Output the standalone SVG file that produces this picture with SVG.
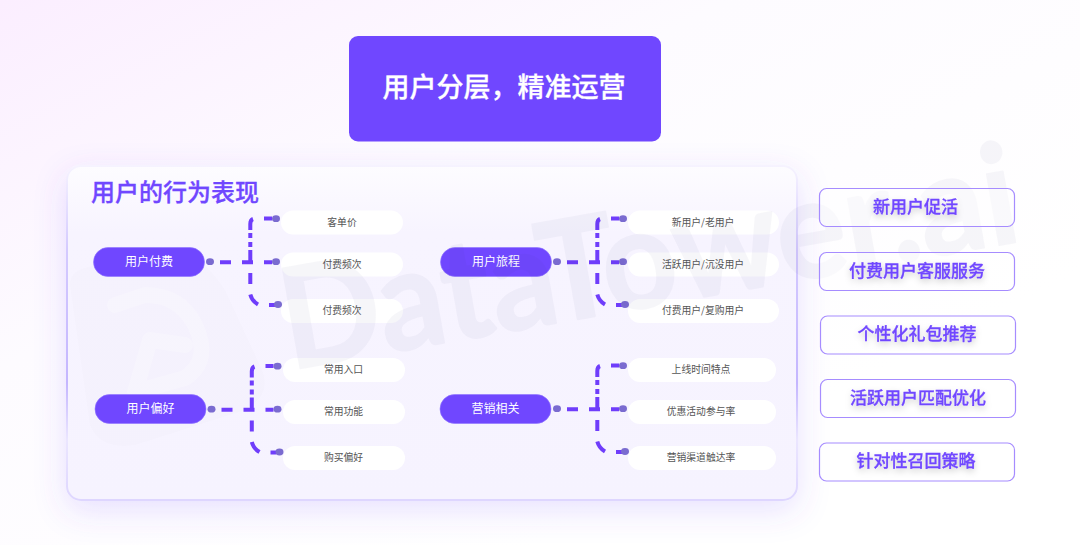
<svg xmlns="http://www.w3.org/2000/svg" width="1080" height="545" viewBox="0 0 1080 545">
<style>
text{font-family:"Noto Sans CJK SC","Liberation Sans",sans-serif;text-anchor:middle}
.root rect{fill:#7047ff;stroke:#8f73ff;stroke-width:.6}
.root text{fill:#fff;font-size:12px}
.leaf rect{fill:#fff}
.leaf text{fill:#555;font-size:9.800px}
.act rect{fill:#fff;fill-opacity:.45;stroke:#a68cff;stroke-width:1.200}
.act text{fill:#7047ff;stroke:#7047ff;stroke-width:.3;font-size:17px;font-weight:500;filter:url(#ts)}
.c{fill:none;stroke:#6f3dfb;stroke-width:4}
.d{fill:#7a6bd0}
</style>
<defs>
<linearGradient id="bg" x1="0" y1="0" x2="0.75" y2="0.75"><stop offset="0" stop-color="#fbeeff"/><stop offset=".45" stop-color="#fdfbff"/><stop offset="1" stop-color="#ffffff"/></linearGradient>
<linearGradient id="card" x1="0" y1="0" x2="0" y2="1"><stop offset="0" stop-color="#fdfcff"/><stop offset=".2" stop-color="#f7f4ff"/><stop offset="1" stop-color="#f6f3ff"/></linearGradient>
<linearGradient id="edge" x1="0" y1="0" x2="0" y2="1"><stop offset="0" stop-color="#f6f3ff"/><stop offset=".25" stop-color="#d4caff"/><stop offset=".65" stop-color="#c4b6ff"/><stop offset=".82" stop-color="#ebe6ff"/><stop offset="1" stop-color="#ded6ff"/></linearGradient>
<filter id="sh" x="-10%" y="-15%" width="120%" height="135%"><feDropShadow dx="0" dy="10" stdDeviation="16" flood-color="#7047ff" flood-opacity=".16"/></filter>
<filter id="ts" x="-10%" y="-30%" width="120%" height="170%"><feDropShadow dx="0" dy="3" stdDeviation="3" flood-color="#000" flood-opacity=".2"/></filter>
<g id="conn">
<path class="c" d="M220 262.300H231M242 262.300H253M250.300 262V250M250.300 247V242M250.300 238V233M250.300 230V224Q250.300 220 253 219M264 218.500H272M264 262.300H272M250.300 273V284M250.300 294.500Q252 301 258 304.500M269 305H275"/>
<ellipse class="d" cx="210" cy="261.700" rx="4" ry="3.400"/><ellipse class="d" cx="276" cy="218.700" rx="4" ry="3.400"/><ellipse class="d" cx="276" cy="261.700" rx="4" ry="3.400"/><ellipse class="d" cx="278" cy="304.500" rx="4" ry="3.400"/>
</g>
</defs>
<rect width="1080" height="545" fill="url(#bg)"/>
<g id="header"><rect x="349" y="36" width="312" height="105.500" rx="9" fill="#7047ff"/><text x="504" y="97" fill="#fff" stroke="#fff" stroke-width=".3" font-size="27" font-weight="500">用户分层，精准运营</text></g>
<g id="panel">
<rect x="67" y="166" width="730" height="334" rx="14" fill="url(#card)" stroke="url(#edge)" stroke-width="2" filter="url(#sh)"/>
<text x="175" y="201" fill="#7047ff" stroke="#7047ff" stroke-width=".3" font-size="24" font-weight="500">用户的行为表现</text>
</g>
<g id="logo" fill="none" stroke-linecap="round" stroke-linejoin="round">
<path d="M70 285Q70 272 85 268L160 248Q195 245 225 290L262 370Q272 395 245 410L135 445Q100 450 90 425Z" fill="#3c3c78" fill-opacity=".012"/>
<path d="M115 305L145 295Q180 295 195 325Q212 360 185 378L135 392L150 340L185 345" stroke="#fff" stroke-opacity=".22" stroke-width="16"/>
</g>
<g id="connectors">
<use href="#conn"/>
<use href="#conn" x="1.500" y="147.500"/>
<use href="#conn" x="347"/>
<use href="#conn" x="347" y="147"/>
</g>
<g id="root-a" class="root"><rect x="93.500" y="247.500" width="111" height="29" rx="14.500"/><text x="149" y="265.500">用户付费</text></g>
<g id="root-b" class="root"><rect x="95" y="394.500" width="111" height="29" rx="14.500"/><text x="150.500" y="412.500">用户偏好</text></g>
<g id="root-c" class="root"><rect x="440.500" y="247.500" width="111" height="29" rx="14.500"/><text x="496" y="265.500">用户旅程</text></g>
<g id="root-d" class="root"><rect x="440" y="394.500" width="111" height="29" rx="14.500"/><text x="495.500" y="412.500">营销相关</text></g>
<g id="leaf-a1" class="leaf"><rect x="281" y="210.500" width="122" height="24" rx="12"/><text x="342" y="225.500">客单价</text></g>
<g id="leaf-a2" class="leaf"><rect x="281" y="252.500" width="122" height="24" rx="12"/><text x="342" y="267.500">付费频次</text></g>
<g id="leaf-a3" class="leaf"><rect x="281" y="299" width="122" height="24" rx="12"/><text x="342" y="314">付费频次</text></g>
<g id="leaf-b1" class="leaf"><rect x="283" y="358" width="122" height="24" rx="12"/><text x="343.500" y="373">常用入口</text></g>
<g id="leaf-b2" class="leaf"><rect x="283" y="400" width="122" height="24" rx="12"/><text x="343.500" y="415">常用功能</text></g>
<g id="leaf-b3" class="leaf"><rect x="283" y="446" width="122" height="24" rx="12"/><text x="343.500" y="461">购买偏好</text></g>
<g id="leaf-c1" class="leaf"><rect x="628" y="210.500" width="151" height="24" rx="12"/><text x="703" y="225.500">新用户/老用户</text></g>
<g id="leaf-c2" class="leaf"><rect x="628" y="252.500" width="151" height="24" rx="12"/><text x="703" y="267.500">活跃用户/沉没用户</text></g>
<g id="leaf-c3" class="leaf"><rect x="628" y="299" width="151" height="24" rx="12"/><text x="703" y="314">付费用户/复购用户</text></g>
<g id="leaf-d1" class="leaf"><rect x="628" y="358" width="148" height="24" rx="12"/><text x="701" y="373">上线时间特点</text></g>
<g id="leaf-d2" class="leaf"><rect x="628" y="400" width="148" height="24" rx="12"/><text x="701" y="415">优惠活动参与率</text></g>
<g id="leaf-d3" class="leaf"><rect x="628" y="446" width="148" height="24" rx="12"/><text x="701" y="461">营销渠道触达率</text></g>
<g id="watermark" fill="#3c3c78" stroke="#3c3c78" stroke-width="2" stroke-linejoin="round" opacity=".04">
<text transform="rotate(-10 290 370)" x="290" y="370" font-size="140" font-weight="700" textLength="745" lengthAdjust="spacingAndGlyphs" style="font-family:Lato,sans-serif;text-anchor:start">DataTower.ai</text>
</g>
<g id="act-1" class="act"><rect x="819.500" y="188.500" width="195" height="38" rx="7"/><text x="915.500" y="213">新用户促活</text></g>
<g id="act-2" class="act"><rect x="819.500" y="252.500" width="195" height="38" rx="7"/><text x="917" y="277">付费用户客服服务</text></g>
<g id="act-3" class="act"><rect x="820.500" y="316" width="195" height="38" rx="7"/><text x="917" y="340">个性化礼包推荐</text></g>
<g id="act-4" class="act"><rect x="820.500" y="379.500" width="195" height="38" rx="7"/><text x="918" y="404">活跃用户匹配优化</text></g>
<g id="act-5" class="act"><rect x="819.500" y="443" width="195" height="38" rx="7"/><text x="916" y="466.500">针对性召回策略</text></g>
</svg>
